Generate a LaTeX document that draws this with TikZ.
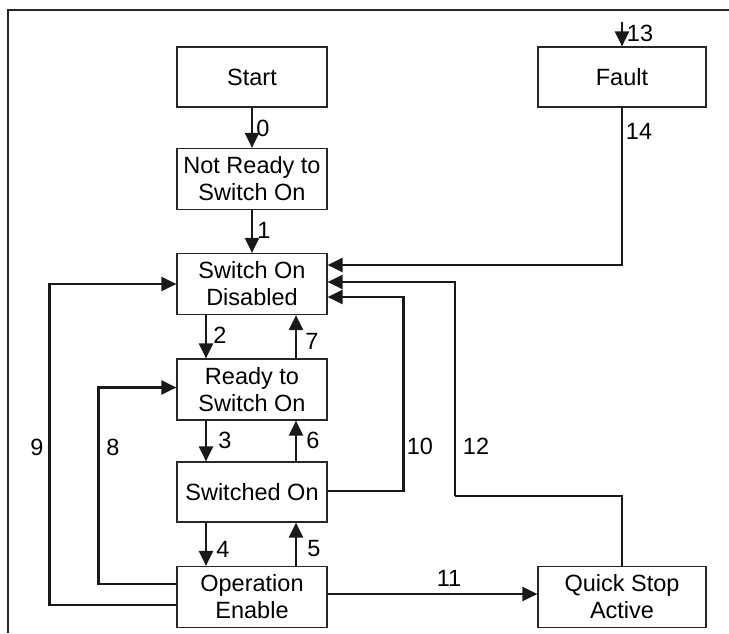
\documentclass[tikz,border=0pt]{standalone}
\usepackage{fontspec}
\setmainfont{Liberation Sans}
\usetikzlibrary{arrows.meta}
\begin{document}
\begin{tikzpicture}[x=1pt,y=-1pt,
  font=\fontsize{23.5}{27}\selectfont,
  state/.style={draw=black!85,line width=1.2pt,align=center,inner sep=0pt,minimum width=150pt,minimum height=61pt},
  wstate/.style={state,minimum width=168pt},
  arr/.style={draw=black!90,line width=2.3pt,-{Triangle[length=15pt,width=14pt]}},
  conn/.style={draw=black!90,line width=2.3pt},
  lbl/.style={inner sep=0pt}]
\useasboundingbox (0,0) rectangle (729,633);
\draw[line width=2pt,black!85] (8,633) -- (8,10) -- (729,10);
% states
\node[state,minimum height=60pt] (start) at (252,77) {Start};
\node[wstate,minimum height=60pt] (fault) at (622,77) {Fault};
\node[state] (nrdy) at (252,179) {Not Ready to\\Switch On};
\node[state] (sod) at (252,284) {Switch On\\Disabled};
\node[state] (rso) at (252,389.5) {Ready to\\Switch On};
\node[state,minimum height=60pt] (son) at (252,492) {Switched On};
\node[state] (ope) at (252,597) {Operation\\Enable};
\node[wstate] (qsa) at (622,597) {Quick Stop\\Active};
% coordinates
\coordinate (k13) at (622,22);
\coordinate (k12) at (455,496);
% transitions
\draw[arr] (start.south) -- (nrdy.north);
\draw[arr] (nrdy.south) -- (sod.north);
\draw[arr] ([xshift=-46pt]sod.south) -- ([xshift=-46pt]rso.north);
\draw[arr] ([xshift=44pt]rso.north) -- ([xshift=44pt]sod.south);
\draw[arr] ([xshift=-46pt]rso.south) -- ([xshift=-46pt]son.north);
\draw[arr] ([xshift=44pt]son.north) -- ([xshift=44pt]rso.south);
\draw[arr] ([xshift=-46pt]son.south) -- ([xshift=-46pt]ope.north);
\draw[arr] ([xshift=44pt]ope.north) -- ([xshift=44pt]son.south);
\draw[arr] ([yshift=-8pt]ope.west) -- ++(-127,0) |- (sod.west);
\draw[arr] ([yshift=13pt]ope.west) -- ++(-78,0) |- ([yshift=2pt]rso.west);
\draw[arr] ([yshift=1pt]son.east) -- ++(76,0) |- ([yshift=-13pt]sod.east);
\draw[arr] ([yshift=3pt]ope.east) -- ([yshift=3pt]qsa.west);
\draw[conn] (qsa.north) |- (k12);
\draw[arr] (k12) |- ([yshift=2pt]sod.east);
\draw[arr] (fault.south) |- ([yshift=19pt]sod.east);
\draw[arr] (k13) -- (fault.north);
% labels
\node[lbl] (l0) at (263,128) {0};
\node[lbl] (l1) at (264,230) {1};
\node[lbl] (l2) at (220,335) {2};
\node[lbl] (l7) at (312,341) {7};
\node[lbl] (l3) at (225,440) {3};
\node[lbl] (l6) at (313,440) {6};
\node[lbl] (l4) at (223,549) {4};
\node[lbl] (l5) at (314,549) {5};
\node[lbl] (l9) at (37,447) {9};
\node[lbl] (l8) at (113,447) {8};
\node[lbl] (l10) at (420,446) {10};
\node[lbl] (l12) at (476,446) {12};
\node[lbl] (l11) at (449,578) {11};
\node[lbl] (l13) at (640,33) {13};
\node[lbl] (l14) at (639,131) {14};
\end{tikzpicture}
\end{document}
